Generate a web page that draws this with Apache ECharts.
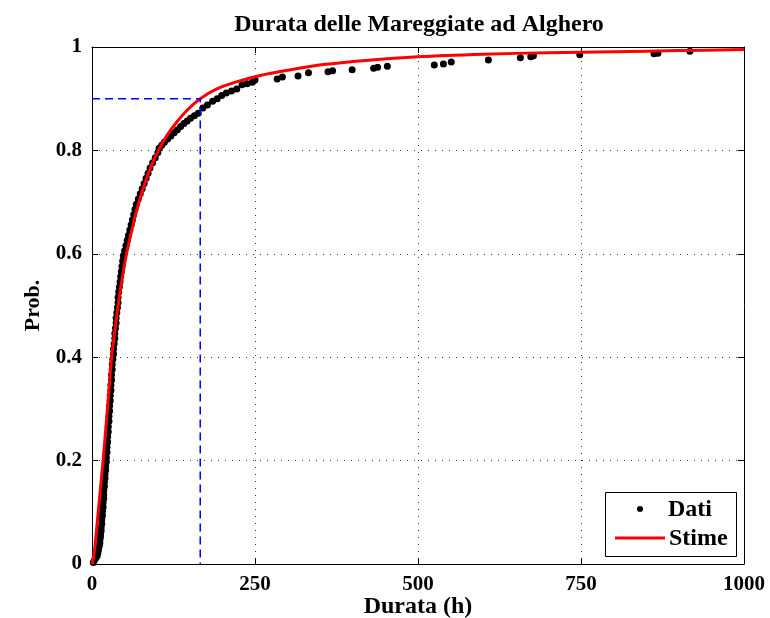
<!DOCTYPE html>
<html><head><meta charset="utf-8">
<script src="https://cdn.jsdelivr.net/npm/echarts@6/dist/echarts.min.js"></script>
<style>html,body{margin:0;padding:0;background:#fff}#c{width:770px;height:618px}</style>
</head><body><div id="c"></div>
<script>
const titleText = 'Durata delle Mareggiate ad Alghero';
const xName = 'Durata (h)';
const yName = 'Prob.';
const xTicks = [0, 250, 500, 750, 1000];
const yTicks = [0, 0.2, 0.4, 0.6, 0.8, 1];
const legendNames = ['Dati', 'Stime'];

const datiX = [2,4,6,8,9,10,11,12,12,13,13,14,14,15,15,16,16,
 17,17,18,18,18,19,19,20,20,21,21,22,
 22,23,23,24,24,25,25,26,26,27,27,28,28,29,29,30,30,31,31,32,
 33,33,34,35,35,36,37,37,38,39,40,40,41,42,43,44,45,46,47,48,
 50,52,54,56,58,60,62,64,66,68,71,74,77,80,83,86,89,93,97,101,
 103,107,111,116,121,126,131,136,141,146,151,157,163,170,177,185,192,199,206,214,222,
 230,238,246,250,284,292,316,332,362,369,399,432,438,453,525,539,551,608,657,673,677,748,862,868,917];
const datiY = [0.003,0.008,0.012,0.016,0.022,0.028,0.034,0.04,0.046,0.052,0.058,0.064,0.07,0.078,0.086,0.094,0.102,
 0.11,0.118,0.126,0.134,0.142,0.15,0.158,0.166,0.174,0.182,0.19,0.198,
 0.206,0.216,0.226,0.236,0.246,0.256,0.266,0.276,0.286,0.296,0.306,0.316,0.326,0.336,0.346,0.356,0.366,0.376,0.386,0.396,
 0.406,0.416,0.426,0.436,0.446,0.456,0.466,0.476,0.486,0.496,0.506,0.516,0.526,0.536,0.546,0.556,0.566,0.576,0.586,0.596,
 0.606,0.616,0.626,0.636,0.646,0.656,0.666,0.676,0.686,0.696,0.706,0.716,0.726,0.736,0.746,0.756,0.766,0.776,0.786,0.796,
 0.804,0.81,0.816,0.822,0.828,0.834,0.84,0.846,0.852,0.857,0.862,0.867,0.872,0.882,0.888,0.895,0.9,0.906,0.911,0.915,0.919,
 0.927,0.929,0.932,0.936,0.938,0.942,0.944,0.95,0.952,0.954,0.956,0.959,0.961,0.963,0.965,0.967,0.971,0.975,0.979,0.981,0.983,0.985,0.987,0.988,0.992];

const stimeX = [0,2,5,8,11,14,17,21,25,30,35,40,46,53,60,67,74,82,91,102,115,130,147,166,190,220,258,300,355,420,500,600,700,800,900,1000];
const stimeY = [0,0.01,0.04,0.08,0.12,0.16,0.2,0.26,0.32,0.4,0.45,0.5,0.55,0.6,0.64,0.677,0.708,0.74,0.77,0.8,0.829,0.855,0.879,0.9,0.918,0.932,0.945,0.955,0.966,0.974,0.981,0.986,0.989,0.991,0.993,0.995];

const refX = [0, 166, 166];
const refY = [0.9, 0.9, 0];

const FONT = '"Liberation Serif", "Times New Roman", serif';
const chart = echarts.init(document.getElementById('c'), null, {renderer: 'canvas'});
const zip = (a, b) => a.map((v, i) => [v, b[i]]);

const xBase = {type: 'value', min: xTicks[0], max: xTicks[xTicks.length-1], interval: xTicks[1]-xTicks[0]};
const yBase = {type: 'value', min: yTicks[0], max: yTicks[yTicks.length-1], interval: 0.2};
const tickLbl = {color: '#000', fontFamily: FONT, fontWeight: 'bold', fontSize: 21};
const grid = {color: '#333', width: 1, type: [1, 6]};

chart.setOption({
  animation: false,
  backgroundColor: '#fff',
  title: {text: titleText, left: 414, top: 8, textAlign: 'center',
    textStyle: {fontFamily: FONT, fontWeight: 'bold', fontSize: 24, color: '#000'}},
  grid: {left: 92, right: 26, top: 47, bottom: 54, containLabel: false, outerBoundsMode: 'none'},
  xAxis: [
    Object.assign({}, xBase, {position: 'bottom', name: xName, nameLocation: 'middle', nameGap: 31,
      nameMoveOverlap: false,
      nameTextStyle: {color: '#000', fontFamily: FONT, fontWeight: 'bold', fontSize: 24},
      axisLine: {show: true, onZero: false, lineStyle: {color: '#000', width: 1}},
      axisTick: {show: true, inside: true, length: 6, lineStyle: {color: '#000'}},
      axisLabel: Object.assign({margin: 10, formatter: v => String(v)}, tickLbl),
      splitLine: {show: true, lineStyle: grid}}),
    Object.assign({}, xBase, {position: 'top',
      axisLine: {show: true, onZero: false, lineStyle: {color: '#000', width: 1}},
      axisTick: {show: true, inside: true, length: 6, lineStyle: {color: '#000'}},
      axisLabel: {show: false}, splitLine: {show: false}})
  ],
  yAxis: [
    Object.assign({}, yBase, {position: 'left', name: yName, nameLocation: 'middle', nameGap: 48,
      nameMoveOverlap: false,
      nameTextStyle: {color: '#000', fontFamily: FONT, fontWeight: 'bold', fontSize: 22}, nameRotate: 90,
      axisLine: {show: true, onZero: false, lineStyle: {color: '#000', width: 1}},
      axisTick: {show: true, inside: true, length: 6, lineStyle: {color: '#000'}},
      axisLabel: Object.assign({margin: 10, formatter: v => String(Math.round(v*10)/10)}, tickLbl),
      splitLine: {show: true, lineStyle: grid}}),
    Object.assign({}, yBase, {position: 'right',
      axisLine: {show: true, onZero: false, lineStyle: {color: '#000', width: 1}},
      axisTick: {show: true, inside: true, length: 6, lineStyle: {color: '#000'}},
      axisLabel: {show: false}, splitLine: {show: false}})
  ],
  series: [
    {name: legendNames[0], type: 'scatter', data: zip(datiX, datiY), symbol: 'circle', symbolSize: 7,
      itemStyle: {color: '#000', opacity: 1}, z: 2},
    {name: legendNames[1], type: 'line', data: zip(stimeX, stimeY), showSymbol: false, smooth: 0.3,
      lineStyle: {color: '#ff0000', width: 3}, z: 3},
    {name: 'ref', type: 'line', data: zip(refX, refY), showSymbol: false,
      lineStyle: {color: '#0000ff', width: 1.5, type: [8, 5]}, z: 4}
  ],
  graphic: [
    {type: 'rect', z: 100, shape: {x: 605.5, y: 492.5, width: 131, height: 64},
      style: {fill: '#fff', stroke: '#000', lineWidth: 1}},
    {type: 'circle', z: 101, shape: {cx: 640, cy: 509, r: 3}, style: {fill: '#000'}},
    {type: 'text', z: 101, x: 668, y: 510, style: {text: legendNames[0], font: 'bold 24px ' + FONT,
      fill: '#000', verticalAlign: 'middle', align: 'left'}},
    {type: 'line', z: 101, shape: {x1: 615, y1: 538, x2: 665, y2: 538}, style: {stroke: '#ff0000', lineWidth: 3}},
    {type: 'text', z: 101, x: 669, y: 539, style: {text: legendNames[1], font: 'bold 24px ' + FONT,
      fill: '#000', verticalAlign: 'middle', align: 'left'}}
  ]
});
</script></body></html>
